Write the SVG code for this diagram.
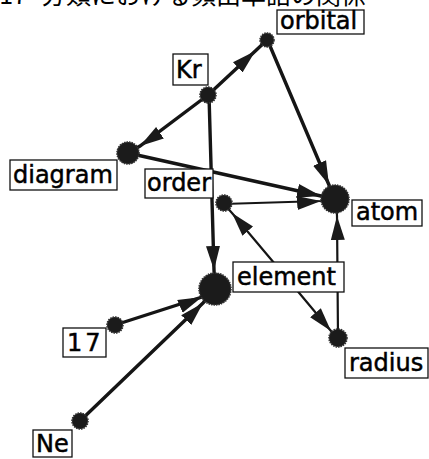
<svg xmlns="http://www.w3.org/2000/svg" width="429" height="459" viewBox="0 0 429 459">
<style>
.lbl{font-family:"DejaVu Sans","Liberation Sans",sans-serif;font-size:24px;fill:#000;stroke:#000;stroke-width:0.5}
.box{fill:#fff;stroke:#111;stroke-width:1.3}
.dot{fill:#1b1b1b;stroke:#333;stroke-width:1.6;stroke-dasharray:1.5 1}
.thick{fill:none;stroke:#151515;stroke-width:3.4}
.thin{fill:none;stroke:#151515;stroke-width:2.2}
.title{font-family:"Noto Sans CJK JP","Noto Sans CJK SC",sans-serif;font-size:25px;fill:#000}
</style>
<defs>
<marker id="ah" viewBox="0 0 24 16" refX="24" refY="8" markerWidth="24" markerHeight="16" markerUnits="userSpaceOnUse" orient="auto">
<path d="M0,1 L24,8 L0,15 Z" fill="#1a1a1a"/>
</marker>
</defs>
<rect width="429" height="459" fill="#fff"/>
<text class="title" x="27" y="4" text-anchor="end">図17</text>
<text class="title" x="366" y="4" text-anchor="end">分類における頻出単語の関係</text>
<g id="connectors">
<path class="thick" d="M208,95 L255.3,50.9 L267,40" marker-mid="url(#ah)"/>
<path class="thick" d="M208,95 L140,146 L128,153" marker-mid="url(#ah)"/>
<path class="thick" d="M209,95 L214,270 L215,288" marker-mid="url(#ah)"/>
<path class="thick" d="M270,46 L329,185 L335,199" marker-mid="url(#ah)"/>
<path class="thick" d="M128,153 L321,196 L335,199" marker-mid="url(#ah)"/>
<path class="thin" d="M223,204 L321,201 L335,199" marker-mid="url(#ah)"/>
<path class="thin" d="M280,270 L232,213 L223,203" marker-mid="url(#ah)"/>
<path class="thin" d="M280,270 L331,331 L337,338" marker-mid="url(#ah)"/>
<path class="thin" d="M338,338 L337,216 L336,199" marker-mid="url(#ah)"/>
<path class="thick" d="M115,325 L202,297 L215,290" marker-mid="url(#ah)"/>
<path class="thick" d="M80,421 L203,303 L215,290" marker-mid="url(#ah)"/>
</g>
<g id="node-orbital">
<circle class="dot" cx="267" cy="40" r="7"/>
<rect class="box" x="277" y="10" width="87" height="24"/>
<text class="lbl" x="280" y="29">orbital</text>
</g>
<g id="node-Kr">
<circle class="dot" cx="208" cy="95" r="8"/>
<rect class="box" x="173" y="54" width="35" height="31"/>
<text class="lbl" x="176" y="78">Kr</text>
</g>
<g id="node-diagram">
<circle class="dot" cx="128" cy="153" r="11"/>
<rect class="box" x="10" y="160" width="107" height="30"/>
<text class="lbl" x="13" y="183">diagram</text>
</g>
<g id="node-order">
<circle class="dot" cx="224" cy="203" r="8"/>
<rect class="box" x="145" y="169" width="68" height="29"/>
<text class="lbl" x="147" y="191">order</text>
</g>
<g id="node-atom">
<circle class="dot" cx="335" cy="199" r="14"/>
<rect class="box" x="352" y="200" width="70" height="26"/>
<text class="lbl" x="356" y="220">atom</text>
</g>
<g id="node-element">
<circle class="dot" cx="215" cy="289" r="16"/>
<rect class="box" x="233" y="262" width="111" height="30"/>
<text class="lbl" x="237" y="285">element</text>
</g>
<g id="node-radius">
<circle class="dot" cx="338" cy="338" r="9"/>
<rect class="box" x="345" y="348" width="83" height="30"/>
<text class="lbl" x="349" y="371">radius</text>
</g>
<g id="node-17">
<circle class="dot" cx="115" cy="325" r="8"/>
<rect class="box" x="63" y="328" width="43" height="29"/>
<text class="lbl" x="67" y="351" letter-spacing="3">17</text>
</g>
<g id="node-Ne">
<circle class="dot" cx="80" cy="421" r="8"/>
<rect class="box" x="33" y="430" width="39" height="27"/>
<text class="lbl" x="36" y="452">Ne</text>
</g>
</svg>
